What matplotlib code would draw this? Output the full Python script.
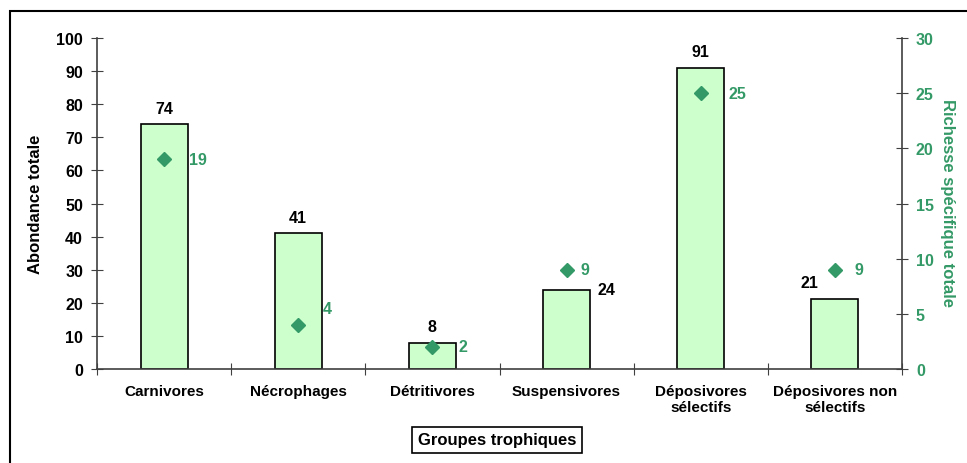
import numpy as np
import matplotlib
matplotlib.use("Agg")
import matplotlib.pyplot as plt
from matplotlib.patches import Rectangle

plt.rcParams['font.family'] = ['Liberation Sans', 'DejaVu Sans']
plt.rcParams['font.weight'] = 'bold'

# données
groupes = ["Carnivores", "Nécrophages", "Détritivores", "Suspensivores",
           "Déposivores\nsélectifs", "Déposivores non\nsélectifs"]
abondance = [74, 41, 8, 24, 91, 21]
richesse = [19, 4, 2, 9, 25, 9]

vert = '#339966'
gris = '#404040'

# décalages des étiquettes (en points)
off_ab = [(0, 6), (0, 6), (0, 6), (5, 0), (0, 6), (-12, 12)]
ha_ab = ['center', 'center', 'center', 'left', 'center', 'right']
va_ab = ['bottom', 'bottom', 'bottom', 'center', 'bottom', 'center']
off_ri = [(18, 0), (18, 12), (19, 0), (10, 0), (20, 0), (14, 0)]

fig = plt.figure(figsize=(9.67, 4.64), dpi=100)
ax = fig.add_axes([0.1003, 0.2026, 0.8325, 0.7133])
ax2 = ax.twinx()

x = np.arange(len(groupes))
ax.bar(x, abondance, width=0.35, color='#CCFFCC', edgecolor='black', linewidth=1.2, zorder=2)
ax2.plot(x, richesse, linestyle='none', marker='D', markersize=7, color=vert, zorder=3)

for i, v in enumerate(abondance):
    xx = i + 0.175 if ha_ab[i] == 'left' else i
    ax.annotate(str(v), (xx, v), xytext=off_ab[i], textcoords='offset points',
                ha=ha_ab[i], va=va_ab[i], fontsize=11.5, fontweight='bold', color='black')
for i, v in enumerate(richesse):
    ax2.annotate(str(v), (i, v), xytext=off_ri[i], textcoords='offset points',
                 ha='left', va='center', fontsize=11.5, fontweight='bold', color=vert)

ax.set_xlim(-0.5, len(groupes) - 0.5)
ax.set_ylim(0, 100)
ax2.set_ylim(0, 30)
ax.set_yticks(np.arange(0, 101, 10))
ax2.set_yticks(np.arange(0, 31, 5))

# graduations aux limites des catégories, étiquettes au centre
ax.set_xticks(np.arange(len(groupes) + 1) - 0.5)
ax.set_xticklabels([])
ax.set_xticks(x, minor=True)
ax.set_xticklabels(groupes, minor=True, fontsize=11, fontweight='bold')
ax.tick_params(axis='x', which='major', direction='inout', length=8, color=gris)
ax.tick_params(axis='x', which='minor', length=0, pad=11)

ax.tick_params(axis='y', direction='inout', length=8, color=gris, labelsize=11.5, pad=6)
ax2.tick_params(axis='y', direction='inout', length=8, color=gris, labelsize=11.5,
                labelcolor=vert, pad=6)
for t in ax.get_yticklabels():
    t.set_fontweight('bold')
for t in ax2.get_yticklabels():
    t.set_fontweight('bold')

for a in (ax, ax2):
    a.spines['top'].set_visible(False)
    for s in ('left', 'right', 'bottom'):
        a.spines[s].set_color(gris)
        a.spines[s].set_linewidth(1.2)
ax.spines['right'].set_visible(False)
ax2.spines['left'].set_visible(False)
ax2.spines['bottom'].set_visible(False)

ax.set_ylabel("Abondance totale", fontsize=12, fontweight='bold', va='center')
ax.yaxis.set_label_coords(-0.077, 0.5)
ax2.set_ylabel("Richesse spécifique totale", fontsize=12, fontweight='bold',
               color=vert, rotation=270, va='center')
ax2.yaxis.set_label_coords(1.057, 0.505)

fig.text(497 / 967, 1 - 441 / 464, "Groupes trophiques", ha='center', va='center',
         fontsize=12, fontweight='bold',
         bbox=dict(boxstyle='square,pad=0.35', fc='white', ec='black', lw=1.2))

# cadre de la figure
fig.patches.append(Rectangle((10 / 967, -0.1), 1.2, 1.1 - 12 / 464,
                             transform=fig.transFigure, fill=False,
                             ec='black', lw=1.5))

fig.savefig("out.png", dpi=100)
